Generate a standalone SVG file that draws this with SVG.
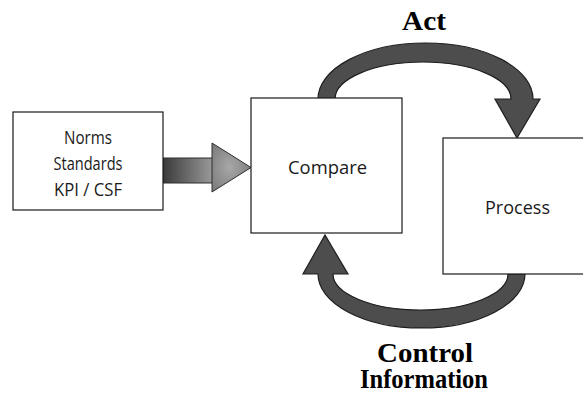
<svg xmlns="http://www.w3.org/2000/svg" width="583" height="393" viewBox="0 0 583 393">
  <defs>
    <linearGradient id="shaftGrad" x1="0" y1="0" x2="1" y2="0">
      <stop offset="0" stop-color="#3a3a3a"/>
      <stop offset="1" stop-color="#9a9a9a"/>
    </linearGradient>
    <radialGradient id="headGrad" cx="0.45" cy="0.5" r="0.6">
      <stop offset="0" stop-color="#a8a8a8"/>
      <stop offset="1" stop-color="#7c7c7c"/>
    </radialGradient>
    <style>
      .box { fill: #ffffff; stroke: #1a1a1a; stroke-width: 1.2; }
      .label { font-family: "Open Sans", "Noto Sans", "Liberation Sans", sans-serif; font-size: 18px; fill: #1a1a1a; text-anchor: middle; }
      .title { font-family: "Liberation Serif", "Times New Roman", serif; font-weight: bold; font-size: 27px; fill: #000000; text-anchor: middle; }
      .loop { fill: #4d4d4d; stroke: #1e1e1e; stroke-width: 1.2; stroke-linejoin: miter; }
      .block { stroke: #2e2e2e; stroke-width: 1; }
    </style>
  </defs>

  <rect width="583" height="393" fill="#ffffff"/>

  <!-- connectors -->
  <g id="connectors">
    <!-- Norms -> Compare block arrow -->
    <g id="input-arrow">
      <rect class="block" x="163" y="158" width="50" height="25" fill="url(#shaftGrad)"/>
      <polygon class="block" points="212,143 251,167.5 212,192" fill="url(#headGrad)"/>
    </g>
    <!-- Act loop: Compare top -> Process top -->
    <path id="act-arrow" class="loop"
          d="M 318,99 A 107.5,56 0 0 1 533,99 L 540,99 L 517,138 L 495,99 L 511,99 A 88,37 0 0 0 335,99 Z"/>
    <!-- Control information loop: Process bottom -> Compare bottom -->
    <path id="control-arrow" class="loop"
          d="M 525,274 A 103.5,54 0 0 1 318,274 L 303,274 L 325,235 L 348,274 L 333,274 A 87.5,36 0 0 0 508,274 Z"/>
  </g>

  <!-- nodes -->
  <g id="norms">
    <rect class="box" x="13" y="112" width="150" height="98"/>
    <text class="label" x="88" y="144" textLength="48" lengthAdjust="spacingAndGlyphs">Norms</text>
    <text class="label" x="88" y="170" textLength="69" lengthAdjust="spacingAndGlyphs">Standards</text>
    <text class="label" x="88" y="196" textLength="68" lengthAdjust="spacingAndGlyphs">KPI / CSF</text>
  </g>

  <g id="compare">
    <rect class="box" x="251" y="98" width="151" height="135"/>
    <text class="label" x="327.5" y="174" textLength="79" lengthAdjust="spacingAndGlyphs">Compare</text>
  </g>

  <g id="process">
    <rect class="box" x="443" y="138" width="145" height="136"/>
    <text class="label" x="517.5" y="214" textLength="65" lengthAdjust="spacingAndGlyphs">Process</text>
  </g>

  <!-- loop captions -->
  <g id="captions">
    <text class="title" x="424" y="30" textLength="44" lengthAdjust="spacingAndGlyphs">Act</text>
    <text class="title" x="425" y="362" textLength="96" lengthAdjust="spacingAndGlyphs">Control</text>
    <text class="title" x="424" y="388" textLength="128" lengthAdjust="spacingAndGlyphs">Information</text>
  </g>
</svg>
